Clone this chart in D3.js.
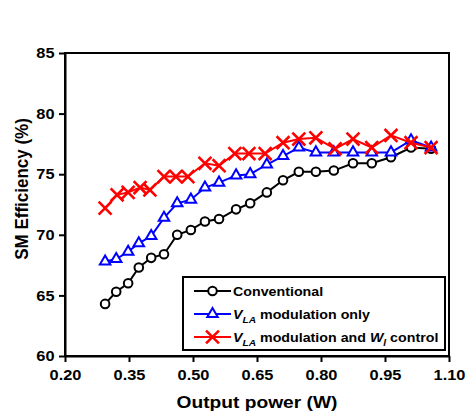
<!DOCTYPE html>
<html lang="en">
<head>
<meta charset="utf-8">
<title>SM Efficiency</title>
<script src="https://d3js.org/d3.v7.min.js"></script>
<style>
  body { margin: 0; background: #fff; }
  svg text { font-family: "Liberation Sans", Arial, sans-serif; font-weight: bold; fill: #000; }
</style>
</head>
<body>
<div id="chart"></div>
<script>
// data
var convX = [0.294,0.320,0.348,0.373,0.402,0.432,0.463,0.495,0.528,0.561,0.601,0.634,0.673,0.711,0.748,0.788,0.830,0.875,0.919,0.964,1.011,1.058];
var convY = [64.3,65.3,66.0,67.3,68.1,68.4,70.0,70.4,71.1,71.3,72.1,72.6,73.5,74.5,75.2,75.2,75.3,75.9,75.9,76.4,77.2,77.1];
var vlaX = convX;
var vlaY = [67.8,68.0,68.6,69.3,69.9,71.4,72.6,72.9,73.9,74.3,74.9,75.0,75.8,76.5,77.2,76.8,76.8,76.8,76.8,76.8,77.8,77.2];
var wlX = [0.294,0.322,0.348,0.376,0.399,0.432,0.460,0.488,0.528,0.561,0.598,0.631,0.669,0.711,0.748,0.788,0.833,0.875,0.919,0.964,1.011,1.058];
var wlY = [72.2,73.3,73.5,73.9,73.7,74.8,74.8,74.8,75.9,75.7,76.7,76.7,76.7,77.6,77.9,78.0,77.1,77.9,77.2,78.2,77.6,77.2];
var xTicks = [0.20,0.35,0.50,0.65,0.80,0.95,1.10];
var yTicks = [60,65,70,75,80,85];

var width = 468, height = 416;
var margin = {top: 53, right: 19, bottom: 60, left: 65};
var sx = 1.13; // the source picture is a little wider than tall, text looks stretched

var svg = d3.select("#chart").append("svg")
  .attr("width", width)
  .attr("height", height);

var x = d3.scaleLinear().domain([0.20, 1.10]).range([margin.left, width - margin.right]);
var y = d3.scaleLinear().domain([60, 85]).range([height - margin.bottom, margin.top]);

// frame
svg.append("rect")
  .attr("x", x(0.20)).attr("y", y(85))
  .attr("width", x(1.10) - x(0.20)).attr("height", y(60) - y(85))
  .attr("fill", "none").attr("stroke", "#000").attr("stroke-width", 2);

var xAxis = svg.append("g")
  .attr("transform", "translate(0," + y(60) + ")")
  .call(d3.axisBottom(x).tickValues(xTicks).tickFormat(d3.format(".2f")).tickSize(6).tickSizeOuter(0));
var yAxis = svg.append("g")
  .attr("transform", "translate(" + x(0.20) + ",0)")
  .call(d3.axisLeft(y).tickValues(yTicks).tickSize(6).tickSizeOuter(0));

[xAxis, yAxis].forEach(function(a) {
  a.select(".domain").attr("stroke-width", 2);
  a.selectAll(".tick line").attr("stroke-width", 2);
  a.selectAll(".tick text").attr("font-size", 14.5).attr("fill", "#000")
    .attr("transform", "scale(" + sx + ",1)")
    .style("font-family", "'Liberation Sans', Arial, sans-serif").style("font-weight", "bold");
});
xAxis.selectAll(".tick text").attr("y", 24).attr("dy", 0);
yAxis.selectAll(".tick text").attr("x", -10.5 / sx);

// axis titles
svg.append("text")
  .attr("transform", "translate(" + ((x(0.20) + x(1.10)) / 2) + ",408) scale(" + sx + ",1)")
  .attr("text-anchor", "middle").attr("font-size", 17)
  .text("Output power (W)");
svg.append("text")
  .attr("transform", "translate(28,189) scale(" + sx + ",1) rotate(-90)")
  .attr("text-anchor", "middle").attr("font-size", 17)
  .text("SM Efficiency (%)");

var line = d3.line().x(function(d) { return x(d[0]); }).y(function(d) { return y(d[1]); });
var tri = d3.symbol().type(d3.symbolTriangle).size(48);
var cross = d3.symbol().type(d3.symbolX).size(110);

var series = [
  {xs: convX, ys: convY, color: "#000000", mark: "circle"},
  {xs: vlaX, ys: vlaY, color: "#0000ff", mark: "tri"},
  {xs: wlX, ys: wlY, color: "#ff0000", mark: "x"}
];

function drawMarker(g, mark, color) {
  if (mark === "circle") {
    g.append("circle").attr("r", 4.3).attr("fill", "#fff").attr("stroke", color).attr("stroke-width", 2);
  } else if (mark === "tri") {
    g.append("path").attr("d", tri).attr("fill", "#fff").attr("stroke", color).attr("stroke-width", 2);
  } else {
    g.append("path").attr("d", cross).attr("fill", "none").attr("stroke", color).attr("stroke-width", 2.6);
  }
}

series.forEach(function(s) {
  var pts = s.xs.map(function(v, i) { return [v, s.ys[i]]; });
  svg.append("path").datum(pts)
    .attr("d", line).attr("fill", "none")
    .attr("stroke", s.color).attr("stroke-width", 2);
  svg.append("g").selectAll("g").data(pts).enter().append("g")
    .attr("transform", function(d) { return "translate(" + x(d[0]) + "," + y(d[1]) + ")"; })
    .each(function() { drawMarker(d3.select(this), s.mark, s.color); });
});

// legend
var legend = svg.append("g").attr("transform", "translate(183,277)");
legend.append("rect").attr("width", 262).attr("height", 73)
  .attr("fill", "#fff").attr("stroke", "#000").attr("stroke-width", 2);

var rows = [14, 37, 60];
series.forEach(function(s, i) {
  var row = legend.append("g").attr("transform", "translate(0," + rows[i] + ")");
  row.append("line").attr("x1", 11).attr("x2", 48).attr("stroke", s.color).attr("stroke-width", 2);
  var m = row.append("g").attr("transform", "translate(29.5,0)");
  drawMarker(m, s.mark, s.color);
});

function labelText(i) {
  return legend.append("text")
    .attr("transform", "translate(50," + (rows[i] + 5) + ") scale(" + sx + ",1)")
    .attr("font-size", 12.6);
}
labelText(0).text("Conventional");
var t1 = labelText(1);
t1.append("tspan").attr("font-style", "italic").text("V");
t1.append("tspan").attr("font-style", "italic").attr("font-size", 9).attr("dy", 4).text("LA");
t1.append("tspan").attr("dy", -4).text(" modulation only");
var t2 = labelText(2);
t2.append("tspan").attr("font-style", "italic").text("V");
t2.append("tspan").attr("font-style", "italic").attr("font-size", 9).attr("dy", 4).text("LA");
t2.append("tspan").attr("dy", -4).text(" modulation and ");
t2.append("tspan").attr("font-style", "italic").text("W");
t2.append("tspan").attr("font-style", "italic").attr("font-size", 9).attr("dy", 4).text("l");
t2.append("tspan").attr("dy", -4).text(" control");
</script>
</body>
</html>
